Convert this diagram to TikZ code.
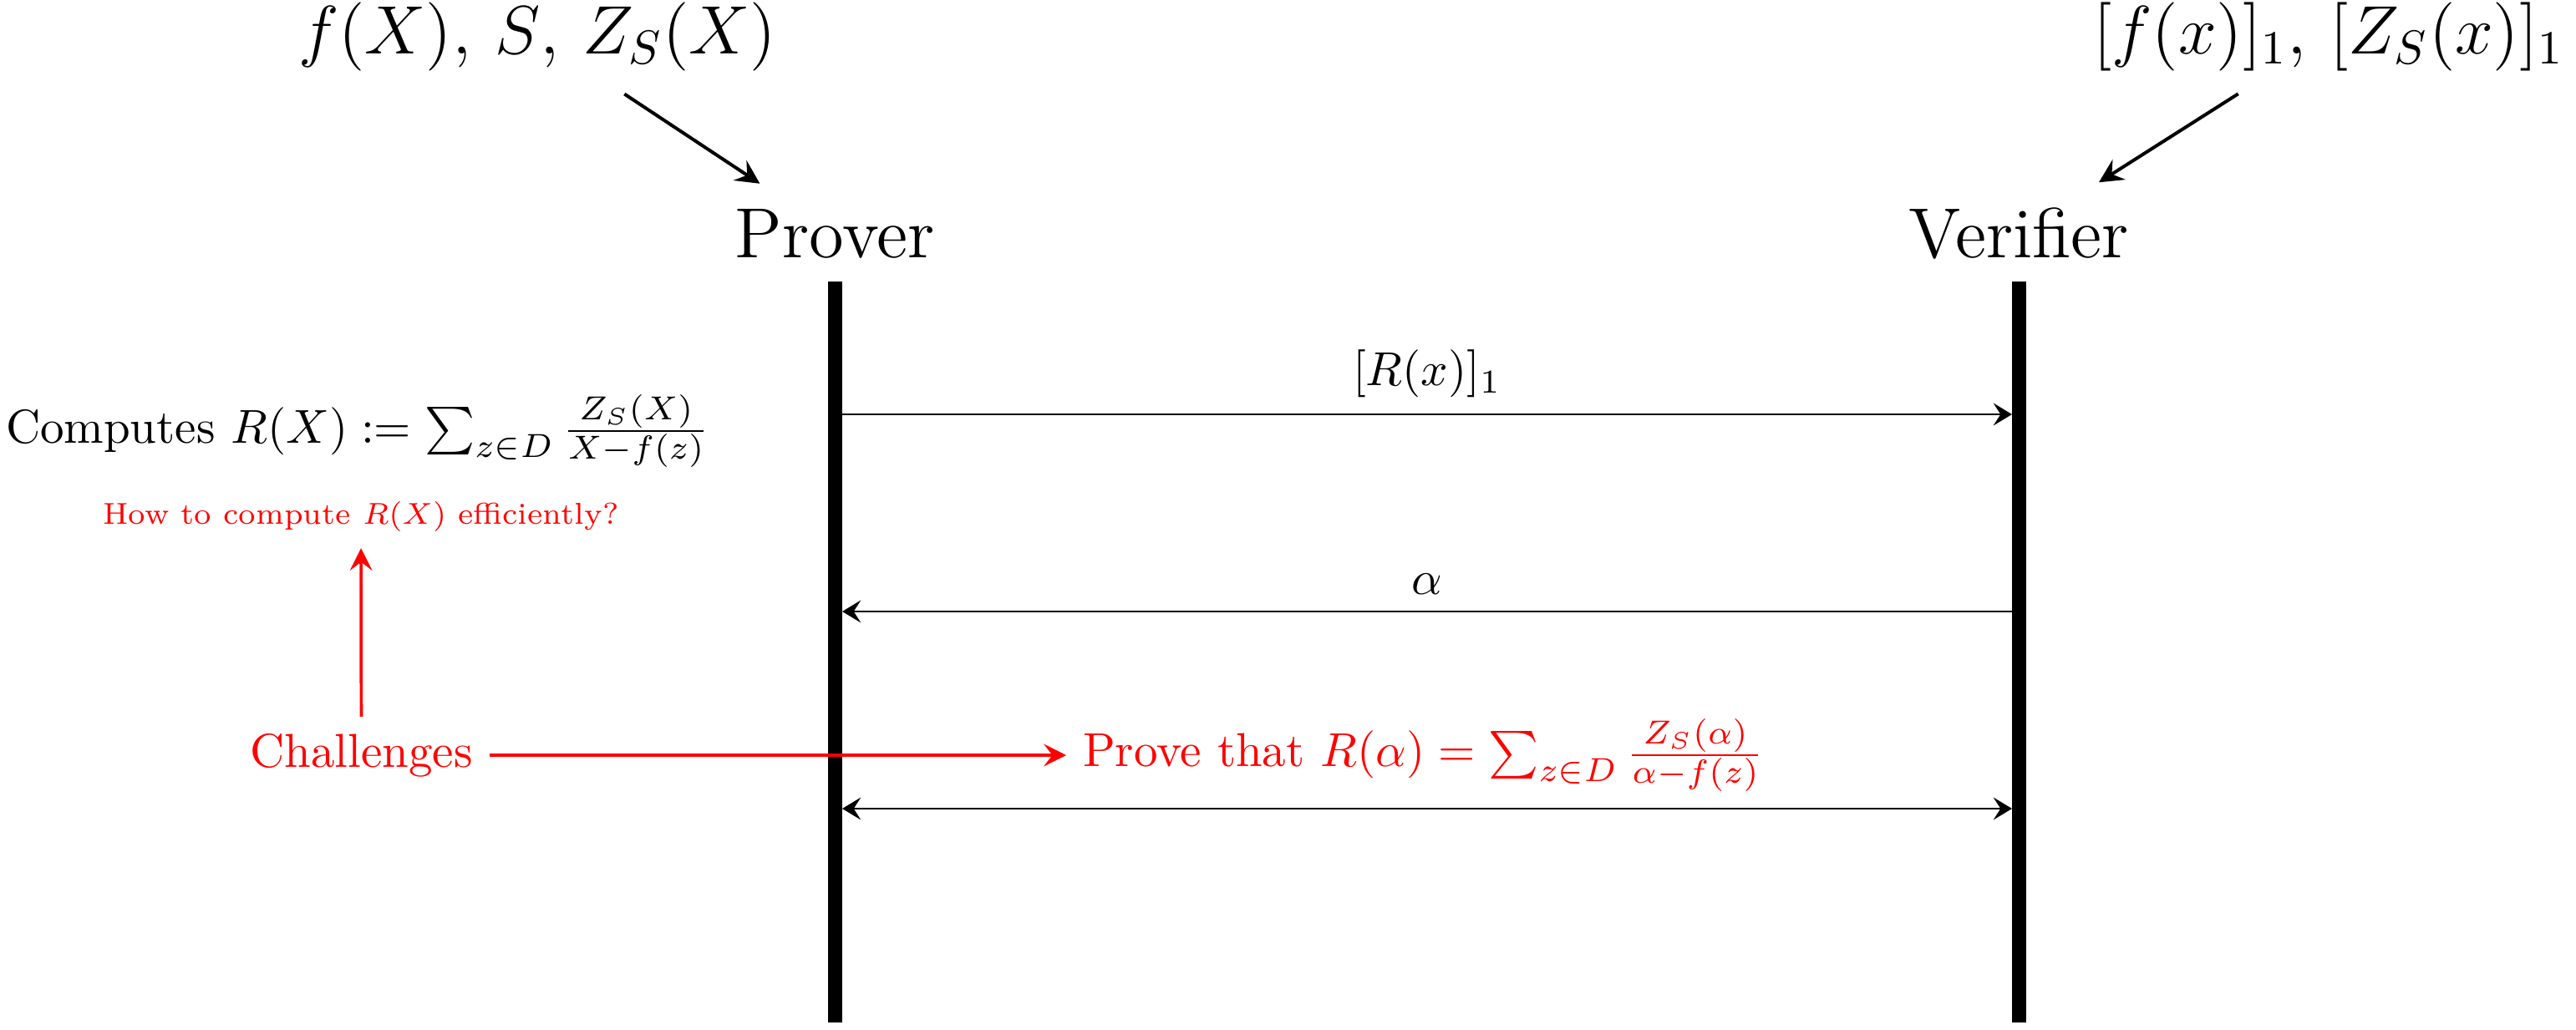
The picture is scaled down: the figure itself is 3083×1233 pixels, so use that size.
\documentclass[tikz,border=0pt]{standalone}
\usepackage{graphicx}
\usetikzlibrary{arrows.meta}
\begin{document}
\begin{tikzpicture}[x=0.1754pt, y=-0.1754pt,
  big/.style={font=\fontsize{14.9pt}{18pt}\selectfont},
  lifeline/.style={line width=3pt},
  msg/.style={line width=0.4pt, -{Stealth[length=3.9pt, width=4.7pt, inset=1.5pt]}},
  dmsg/.style={line width=0.4pt, {Stealth[length=3.9pt, width=4.7pt, inset=1.5pt]}-{Stealth[length=3.9pt, width=4.7pt, inset=1.5pt]}},
  toparr/.style={line width=0.7pt, -{Stealth[length=5pt, width=5pt, inset=1.8pt]}, shorten <=2.5pt, shorten >=3.2pt},
  redtxt/.style={text=red},
  redarr/.style={red, line width=0.65pt, -{Stealth[length=4.7pt, width=4.7pt, inset=1.8pt]}}
]
\useasboundingbox (0,0) rectangle (3083,1233);

% participants
\node[big, anchor=base] (P) at (999.5,308) {Prover};
\node[big, anchor=base] (V) at (2416.5,308) {Verifier};

% inputs
\node[big, anchor=base] (fl) at (643,64) {$f(X)$, $S$, $Z_S(X)$};
\node[big, anchor=base] (fr) at (2787,64) {$[f(x)]_1$, $[Z_S(x)]_1$};
\draw[toparr] (fl) -- (P);
\draw[toparr] (fr) -- (V);

% lifelines
\coordinate (Pt) at (999.5,337);
\coordinate (Pb) at (999.5,1224);
\coordinate (Vt) at (2416.5,337);
\coordinate (Vb) at (2416.5,1224);
\draw[lifeline] (Pt) -- (Pb);
\draw[lifeline] (Vt) -- (Vb);

% messages
\coordinate (p1) at (1008,496);
\coordinate (v1) at (2408,496);
\coordinate (p2) at (1008,732);
\coordinate (v2) at (2408,732);
\coordinate (p3) at (1008,968);
\coordinate (v3) at (2408,968);
\draw[msg] (p1) -- node[above] (m1) {$[R(x)]_1$} (v1);
\draw[msg] (v2) -- node[above] (m2) {$\alpha$} (p2);
\draw[dmsg] (p3) -- (v3);

% prover side notes
\node[anchor=base] (comp) at (428,530) {Computes $R(X) := \sum_{z\in D}\frac{Z_S(X)}{X-f(z)}$};
\node[redtxt, font=\scriptsize, anchor=base] (how) at (432,627) {\scalebox{0.905}{How to compute $R(X)$ efficiently?}};
\node[redtxt] (ch) at (432.5,904) {Challenges};
\node[redtxt, anchor=west] (prove) at (1276,904) {Prove that $R(\alpha) = \sum_{z\in D}\frac{Z_S(\alpha)}{\alpha-f(z)}$};
\draw[redarr] (ch) -- (how);
\draw[redarr] (ch) -- (prove);
\end{tikzpicture}
\end{document}
